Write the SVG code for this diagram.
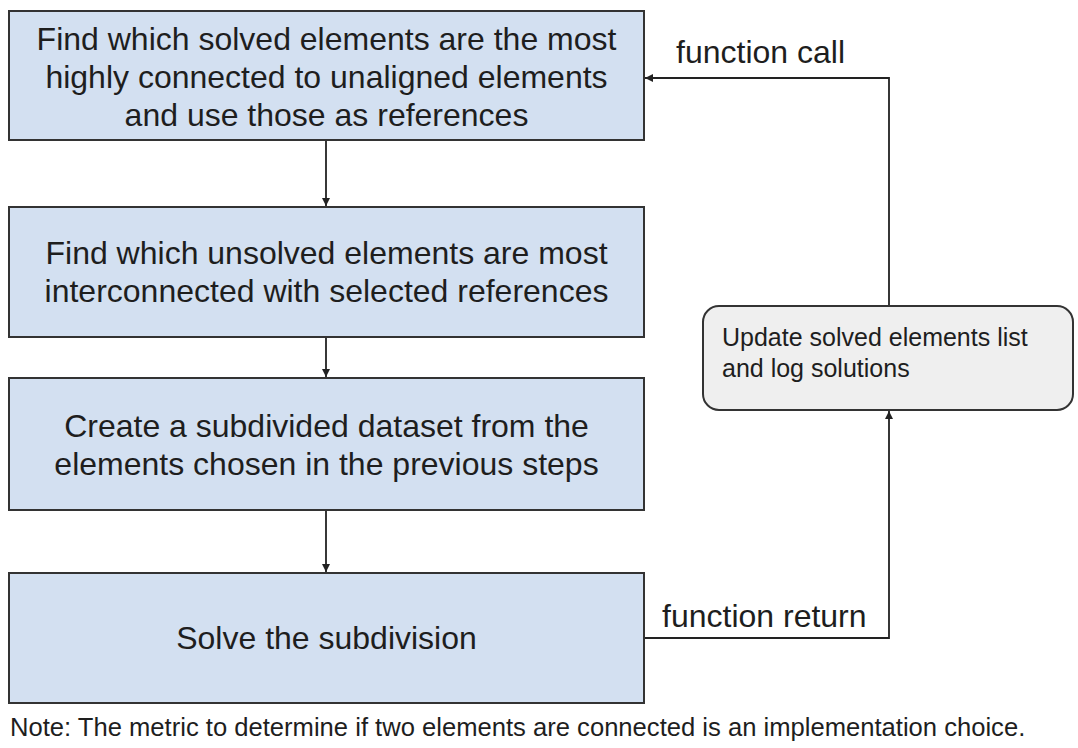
<svg xmlns="http://www.w3.org/2000/svg" width="1078" height="748" viewBox="0 0 1078 748">
  <style>
    .box { fill: #d3e0f1; stroke: #333333; stroke-width: 2; }
    .grey { fill: #efefef; stroke: #333333; stroke-width: 2; }
    .t { font-family: "Liberation Sans", Arial, sans-serif; font-size: 32px; fill: #1e1e1e; }
    .c { text-anchor: middle; }
    .s { font-family: "Liberation Sans", Arial, sans-serif; font-size: 25px; fill: #1e1e1e; }
    .note { font-family: "Liberation Sans", Arial, sans-serif; font-size: 25.6px; fill: #1e1e1e; }
    .line { fill: none; stroke: #222222; stroke-width: 1.8; }
  </style>
  <defs>
    <marker id="arr" viewBox="0 0 10 10" refX="10" refY="5" markerWidth="8" markerHeight="8" markerUnits="userSpaceOnUse" orient="auto">
      <path d="M0,0 L10,5 L0,10 z" fill="#222222"/>
    </marker>
  </defs>
  <rect width="1078" height="748" fill="#ffffff"/>
  <g id="connectors">
    <path class="line" d="M326 140 V206" marker-end="url(#arr)"/>
    <path class="line" d="M326 337 V377" marker-end="url(#arr)"/>
    <path class="line" d="M326 510 V572" marker-end="url(#arr)"/>
    <path class="line" d="M889 306 V78 H645" marker-end="url(#arr)"/>
    <path class="line" d="M644 638 H889 V411" marker-end="url(#arr)"/>
    <text class="t" x="676" y="63">function call</text>
    <text class="t" x="662" y="627">function return</text>
  </g>
  <g id="node1">
    <rect class="box" x="9" y="11" width="635" height="129"/>
    <text class="t c" x="326.5" y="50">Find which solved elements are the most</text>
    <text class="t c" x="326.5" y="88">highly connected to unaligned elements</text>
    <text class="t c" x="326.5" y="126">and use those as references</text>
  </g>
  <g id="node2">
    <rect class="box" x="9" y="207" width="635" height="130"/>
    <text class="t c" x="326.5" y="264">Find which unsolved elements are most</text>
    <text class="t c" x="326.5" y="302">interconnected with selected references</text>
  </g>
  <g id="node3">
    <rect class="box" x="9" y="378" width="635" height="132"/>
    <text class="t c" x="326.5" y="437">Create a subdivided dataset from the</text>
    <text class="t c" x="326.5" y="475">elements chosen in the previous steps</text>
  </g>
  <g id="node4">
    <rect class="box" x="9" y="573" width="635" height="130"/>
    <text class="t c" x="326.5" y="649">Solve the subdivision</text>
  </g>
  <g id="node5">
    <rect class="grey" x="703" y="306" width="370" height="104" rx="16" ry="16"/>
    <text class="s" x="722" y="346">Update solved elements list</text>
    <text class="s" x="722" y="377">and log solutions</text>
  </g>
  <g id="note">
    <text class="note" x="10" y="736">Note: The metric to determine if two elements are connected is an implementation choice.</text>
  </g>
</svg>
